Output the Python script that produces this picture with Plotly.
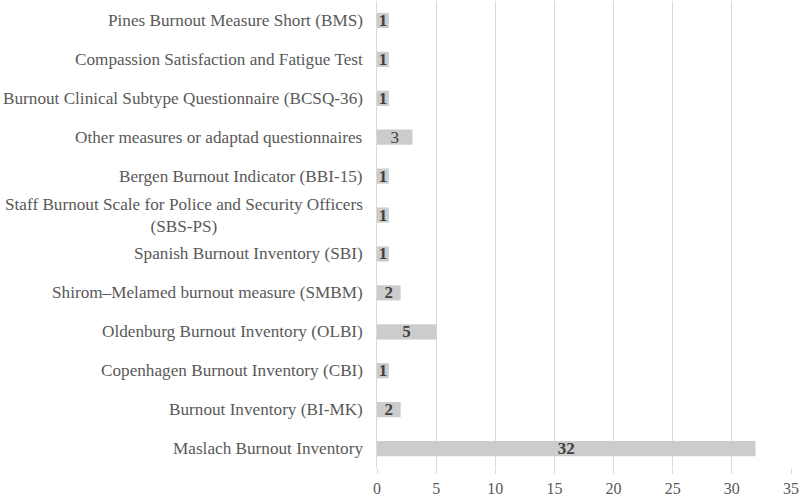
import plotly.graph_objects as go

# Categories listed bottom to top
measures = [
    "Maslach Burnout Inventory",
    "Burnout Inventory (BI-MK)",
    "Copenhagen Burnout Inventory (CBI)",
    "Oldenburg Burnout Inventory (OLBI)",
    "Shirom–Melamed burnout measure (SMBM)",
    "Spanish Burnout Inventory (SBI)",
    "Staff Burnout Scale for Police and Security Officers<br>(SBS-PS)",
    "Bergen Burnout Indicator (BBI-15)",
    "Other measures or adaptad questionnaires",
    "Burnout Clinical Subtype Questionnaire (BCSQ-36)",
    "Compassion Satisfaction and Fatigue Test",
    "Pines Burnout Measure Short (BMS)",
]
counts = [32, 2, 1, 5, 2, 1, 1, 1, 3, 1, 1, 1]
x_ticks = [0, 5, 10, 15, 20, 25, 30, 35]

FONT = "Liberation Serif"

labels = [f"{c}" if c == 3 else f"<b>{c}</b>" for c in counts]

fig = go.Figure()
fig.add_trace(go.Bar(
    y=list(range(len(measures))),
    x=counts,
    orientation='h',
    marker=dict(color='#cccccc', line=dict(width=0)),
    width=0.39,
    text=labels,
    textposition='inside',
    insidetextanchor='middle',
    textangle=0,
    constraintext='none',
    textfont=dict(family=FONT, size=17, color='#404040'),
    hoverinfo='skip',
))

# category labels as annotations so the wrapped one can be centred
for i, m in enumerate(measures):
    fig.add_annotation(
        x=0, xref='paper', y=i, yref='y',
        text=m, showarrow=False,
        xanchor='right', xshift=-12, align='center',
        font=dict(family=FONT, size=17.2, color='#595959'),
    )

fig.update_layout(
    width=800, height=496,
    margin=dict(l=377, r=9, t=1, b=28, autoexpand=False),
    plot_bgcolor='white', paper_bgcolor='white',
    showlegend=False,
)
fig.update_xaxes(
    range=[0, 35], tickvals=x_ticks,
    showgrid=True, gridcolor='#d9d9d9', gridwidth=1,
    zeroline=False, showline=False,
    ticks='outside', ticklen=5, tickcolor='#d9d9d9',
    ticklabelstandoff=1,
    tickfont=dict(family=FONT, size=16, color='#595959'),
    automargin=False,
)
fig.update_yaxes(
    range=[-0.5, len(measures) - 0.5],
    showticklabels=False, showgrid=False, zeroline=False,
    showline=True, linecolor='#d9d9d9', linewidth=1,
    automargin=False,
)

fig.write_html("out.html", config={"displayModeBar": False},
               post_script="document.body.style.margin='0';")
